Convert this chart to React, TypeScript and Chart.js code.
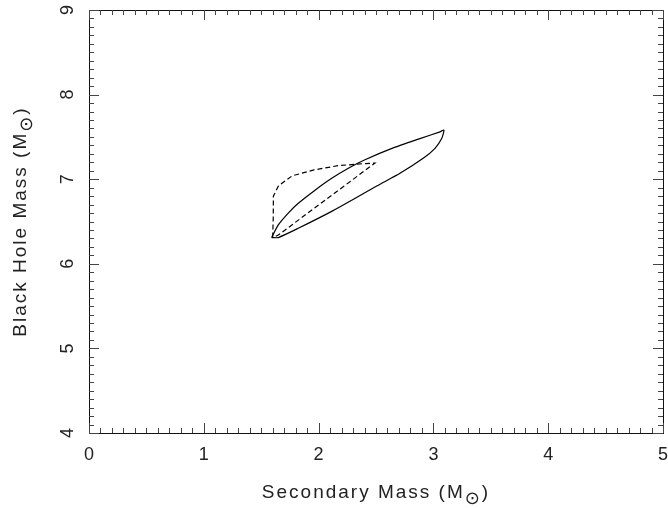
import React, { useEffect, useRef } from "react";
import { Chart, registerables } from "chart.js";

Chart.register(...registerables);

// Data
const solidX = [1.59, 1.649, 1.736, 1.823, 1.969, 2.114, 2.259, 2.404, 2.65, 2.883, 3.057, 3.092, 3.072, 3.014, 2.914, 2.709, 2.506, 2.30, 2.114, 1.823, 1.649, 1.59];
const solidY = [6.31, 6.46, 6.60, 6.715, 6.87, 7.01, 7.13, 7.23, 7.37, 7.48, 7.56, 7.58, 7.48, 7.365, 7.25, 7.07, 6.92, 6.76, 6.62, 6.42, 6.31, 6.31];
const dashX = [1.60, 1.605, 1.606, 1.65, 1.77, 1.96, 2.17, 2.40, 2.49, 1.649, 1.60];
const dashY = [6.31, 6.55, 6.80, 6.92, 7.04, 7.11, 7.16, 7.185, 7.19, 6.34, 6.31];

const xTicks = [0, 1, 2, 3, 4, 5];
const yTicks = [4, 5, 6, 7, 8, 9];
const xMinorStep = 0.1;
const yMinorStep = 0.1;
const xTitle = "Secondary Mass (M";
const yTitle = "Black Hole Mass (M";
const sunSymbol = "\u2299";
const closeParen = ")";

const FONT = '18px "Liberation Sans", Arial, sans-serif';
const TITLE_FONT = '19px "Liberation Sans", Arial, sans-serif';
const SUB_FONT = '18px "DejaVu Sans", sans-serif';
const TEXT_COLOR = "#222";

const framePlugin = {
  id: "framePlugin",
  afterDraw(chart: any) {
    const ctx: any = chart.ctx;
    const { left, right, top, bottom } = chart.chartArea;
    const xs = chart.scales.x;
    const ys = chart.scales.y;
    ctx.save();
    // frame
    ctx.strokeStyle = "#111";
    ctx.lineWidth = 1;
    ctx.strokeRect(Math.round(left) + 0.5, Math.round(top) + 0.5, Math.round(right - left), Math.round(bottom - top));

    ctx.strokeStyle = "#444";
    ctx.beginPath();
    const xMin = xTicks[0], xMax = xTicks[xTicks.length - 1];
    const nX = Math.round((xMax - xMin) / xMinorStep);
    for (let i = 0; i <= nX; i++) {
      const v = xMin + i * xMinorStep;
      const major = i % 10 === 0;
      const len = major ? 10 : 5;
      const px = Math.round(xs.getPixelForValue(v)) + 0.5;
      ctx.moveTo(px, bottom);
      ctx.lineTo(px, bottom - len);
      ctx.moveTo(px, top);
      ctx.lineTo(px, top + len);
    }
    const yMin = yTicks[0], yMax = yTicks[yTicks.length - 1];
    const nY = Math.round((yMax - yMin) / yMinorStep);
    for (let i = 0; i <= nY; i++) {
      const v = yMin + i * yMinorStep;
      const major = i % 10 === 0;
      const len = major ? 10 : 5;
      const py = Math.round(ys.getPixelForValue(v)) + 0.5;
      ctx.moveTo(left, py);
      ctx.lineTo(left + len, py);
      ctx.moveTo(right, py);
      ctx.lineTo(right - len, py);
    }
    ctx.stroke();

    // tick labels
    ctx.fillStyle = TEXT_COLOR;
    ctx.font = FONT;
    ctx.textAlign = "center";
    ctx.textBaseline = "alphabetic";
    xTicks.forEach((v) => {
      ctx.fillText(String(v), xs.getPixelForValue(v), bottom + 27);
    });
    yTicks.forEach((v) => {
      ctx.save();
      ctx.translate(left - 16, ys.getPixelForValue(v));
      ctx.rotate(-Math.PI / 2);
      ctx.fillText(String(v), 0, 0);
      ctx.restore();
    });

    // titles with subscript sun symbol
    const drawTitle = (main: string) => {
      ctx.letterSpacing = "2px";
      ctx.font = TITLE_FONT;
      const w1 = ctx.measureText(main).width;
      const w3 = ctx.measureText(closeParen).width;
      ctx.font = SUB_FONT;
      const w2 = ctx.measureText(sunSymbol).width;
      const total = w1 + w2 + w3;
      const x0 = -total / 2;
      ctx.textAlign = "left";
      ctx.font = TITLE_FONT;
      ctx.fillText(main, x0, 0);
      ctx.font = SUB_FONT;
      ctx.fillText(sunSymbol, x0 + w1, 6);
      ctx.font = TITLE_FONT;
      ctx.fillText(closeParen, x0 + w1 + w2, 0);
      ctx.letterSpacing = "0px";
    };
    ctx.save();
    ctx.translate((left + right) / 2, bottom + 65);
    drawTitle(xTitle);
    ctx.restore();
    ctx.save();
    ctx.translate(26, (top + bottom) / 2);
    ctx.rotate(-Math.PI / 2);
    drawTitle(yTitle);
    ctx.restore();

    ctx.restore();
  },
};

export default function App() {
  const ref = useRef<HTMLCanvasElement>(null);
  useEffect(() => {
    if (!ref.current) return;
    const chart = new Chart(ref.current, {
      type: "scatter",
      data: {
        datasets: [
          {
            label: "solid",
            data: solidX.map((x, i) => ({ x, y: solidY[i] })),
            showLine: true,
            borderColor: "#000",
            borderWidth: 1.2,
            pointRadius: 0,
            tension: 0.2,
            fill: false,
          },
          {
            label: "dashed",
            data: dashX.map((x, i) => ({ x, y: dashY[i] })),
            showLine: true,
            borderColor: "#000",
            borderWidth: 1.2,
            borderDash: [5, 3],
            pointRadius: 0,
            tension: 0,
            fill: false,
          },
        ],
      },
      options: {
        responsive: false,
        animation: false,
        layout: { padding: { left: 89, right: 5, top: 10, bottom: 75 } },
        plugins: { legend: { display: false }, tooltip: { enabled: false } },
        scales: {
          x: { type: "linear", min: 0, max: 5, display: false },
          y: { type: "linear", min: 4, max: 9, display: false },
        },
      },
      plugins: [framePlugin],
    });
    return () => chart.destroy();
  }, []);
  return (
    <div style={{ position: "fixed", left: 0, top: 0, width: 668, height: 508, background: "#fff" }}>
      <canvas ref={ref} width={668} height={508} />
    </div>
  );
}
